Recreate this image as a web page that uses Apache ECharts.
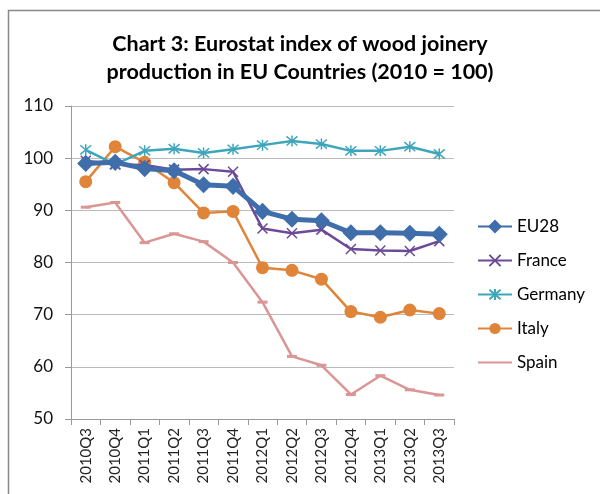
<!DOCTYPE html>
<html>
<head>
<meta charset="utf-8">
<script src="https://cdn.jsdelivr.net/npm/echarts@6/dist/echarts.min.js"></script>
<style>html,body{margin:0;padding:0;background:#fff}#c{width:600px;height:494px}</style>
</head>
<body>
<div id="c"></div>
<script>
const categories = ['2010Q3','2010Q4','2011Q1','2011Q2','2011Q3','2011Q4','2012Q1','2012Q2','2012Q3','2012Q4','2013Q1','2013Q2','2013Q3'];
const eu28    = [99.0, 99.2, 98.0, 97.6, 94.9, 94.6, 89.8, 88.3, 88.0, 85.7, 85.7, 85.6, 85.4];
const france  = [99.5, 98.8, 98.7, 97.8, 97.9, 97.4, 86.5, 85.6, 86.3, 82.6, 82.3, 82.2, 84.1];
const germany = [101.6, 98.8, 101.4, 101.8, 101.0, 101.7, 102.5, 103.3, 102.7, 101.4, 101.4, 102.2, 100.8];
const italy   = [95.5, 102.2, 99.2, 95.3, 89.5, 89.8, 79.0, 78.5, 76.8, 70.6, 69.5, 70.9, 70.2];
const spain   = [90.6, 91.5, 83.8, 85.5, 84.0, 80.0, 72.4, 62.0, 60.3, 54.7, 58.3, 55.6, 54.6];
const yTicks  = [50, 60, 70, 80, 90, 100, 110];

const FONT = 'Lato, "Open Sans", sans-serif';
const chart = echarts.init(document.getElementById('c'));
const xPath = 'path://M0,0L10,10M10,0L0,10';
const starPath = 'path://M0,0L10,10M10,0L0,10M5,-1L5,11';
function ser(name, data, color, extra) {
  return Object.assign({
    name, type: 'line', data,
    lineStyle: { color, width: 2.5 },
    itemStyle: { color, borderColor: color, borderWidth: 1.5 },
    emphasis: { disabled: true }
  }, extra);
}
chart.setOption({
  animation: false,
  backgroundColor: '#fff',
  title: {
    text: 'Chart 3: Eurostat index of wood joinery\nproduction in EU Countries (2010 = 100)',
    left: 'center', top: 25,
    textStyle: { fontFamily: FONT, fontWeight: 'bold', fontSize: 21.5, lineHeight: 28, color: '#000' }
  },
  graphic: [{
    type: 'rect', silent: true,
    shape: { x: 8.5, y: 10.5, width: 700, height: 600 },
    style: { fill: 'none', stroke: '#888', lineWidth: 1.5 }
  }],
  legend: {
    orient: 'vertical', left: 472, top: 213,
    itemWidth: 34, itemHeight: 14, itemGap: 17,
    textStyle: { fontFamily: FONT, fontSize: 17, color: '#000' },
    data: ['EU28', 'France', 'Germany', 'Italy', { name: 'Spain', itemStyle: { opacity: 0 } }]
  },
  grid: { left: 71, right: 146, top: 106, bottom: 75, containLabel: false },
  xAxis: {
    type: 'category', data: categories, boundaryGap: true,
    axisLine: { lineStyle: { color: '#999', width: 1 } },
    axisTick: { show: true, length: 6, lineStyle: { color: '#999' } },
    axisLabel: { rotate: 90, margin: 9, fontFamily: FONT, fontSize: 15, color: '#222' }
  },
  yAxis: {
    type: 'value', min: yTicks[0], max: yTicks[yTicks.length - 1], interval: 10,
    axisLine: { show: true, lineStyle: { color: '#999' } },
    axisTick: { show: true, length: 6, lineStyle: { color: '#999' } },
    splitLine: { lineStyle: { color: '#bbb', width: 1 } },
    axisLabel: { margin: 18, fontFamily: FONT, fontSize: 17, color: '#111' }
  },
  series: [
    ser('EU28', eu28, '#3F6EAB', { symbol: 'diamond', symbolSize: [15, 15], lineStyle: { color: '#3F6EAB', width: 5 }, z: 5 }),
    ser('France', france, '#6B4A97', { symbol: xPath, symbolSize: 10, z: 4 }),
    ser('Germany', germany, '#3EA6BB', { symbol: starPath, symbolSize: 11, z: 3 }),
    ser('Italy', italy, '#E0843A', { symbol: 'circle', symbolSize: 13, itemStyle: { color: '#E0843A', borderWidth: 0 }, z: 2 }),
    ser('Spain', spain, '#D99694', { symbol: 'rect', symbolSize: [10, 3], itemStyle: { color: '#D99694', borderWidth: 0 }, z: 1 })
  ]
});
</script>
</body>
</html>
